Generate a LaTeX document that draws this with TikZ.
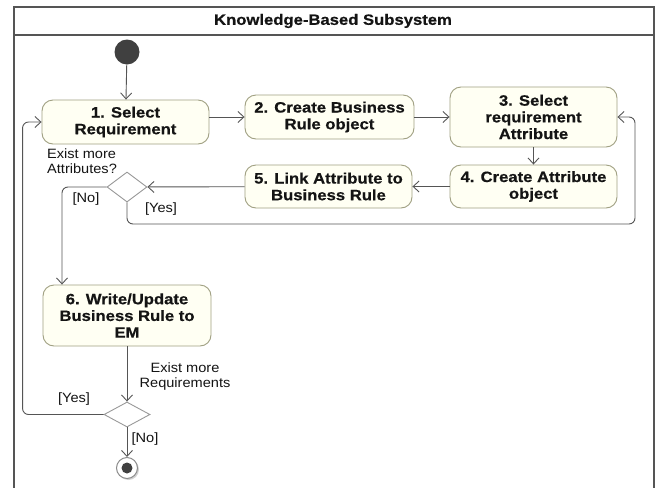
\documentclass[tikz,border=0pt]{standalone}
\usepackage{fontspec}
\setmainfont[FakeStretch=1.08,BoldFeatures={FakeStretch=1.11,FakeBold=0.6}]{Liberation Sans}
\usetikzlibrary{arrows.meta,shapes.geometric,shadows}
\definecolor{boxfill}{RGB}{255,255,243}
\definecolor{boxline}{RGB}{160,160,130}
\definecolor{flowc}{RGB}{85,85,85}
\definecolor{framec}{RGB}{85,85,85}
\definecolor{txt}{RGB}{20,20,20}
\begin{document}
\begin{tikzpicture}[x=1pt,y=-1pt,
  act/.style={draw=boxline, fill=boxfill, rounded corners=11pt, line width=0.9pt, align=center,
    font=\fontsize{15}{16.7}\selectfont\bfseries, inner sep=0pt, text=txt},
  flow/.style={draw=flowc, line width=0.9pt, -{Straight Barb[length=6pt,width=11pt]}},
  dec/.style={diamond, draw=gray!80, fill=white, line width=0.9pt, inner sep=0pt},
  lbl/.style={font=\fontsize{13.5}{15}\selectfont, text=txt, inner sep=0pt, align=center},
  title/.style={font=\fontsize{15}{17}\selectfont\bfseries, text=txt, inner sep=0pt}]
\useasboundingbox (0,0) rectangle (657,488);
\fill[white] (0,0) rectangle (657,488);
% frame
\draw[framec, line width=2.4pt] (14,490) -- (14,7) -- (654,7) -- (654,490);
\draw[framec, line width=2pt] (14,35) -- (654,35);
\node[title] (ttl) at (333,21) {Knowledge-Based Subsystem};
% nodes
\node[circle, fill=black!75, minimum size=25pt, inner sep=0pt] (init) at (127,52) {};
\node[act, minimum width=167pt, minimum height=44pt] (b1) at (125.5,122) {1. Select\\Requirement};
\node[act, minimum width=169pt, minimum height=44pt] (b2) at (329.5,117) {2. Create Business\\Rule object};
\node[act, minimum width=167pt, minimum height=60pt] (b3) at (533.5,117) {3. Select\\requirement\\Attribute};
\node[act, minimum width=167pt, minimum height=43pt] (b4) at (533.5,186.5) {4. Create Attribute\\object};
\node[act, minimum width=167pt, minimum height=43pt] (b5) at (328.5,186.5) {5. Link Attribute to\\Business Rule};
\node[dec, minimum width=40pt, minimum height=30pt] (d1) at (127,187) {};
\node[act, minimum width=168pt, minimum height=61pt] (b6) at (127,315.5) {6. Write/Update\\Business Rule to\\EM};
\node[dec, minimum width=46pt, minimum height=25pt] (d2) at (127,414.5) {};
\node[circle, draw=gray!90, fill=white, minimum size=21pt, inner sep=0pt, line width=1pt,
  drop shadow={shadow xshift=1.5pt, shadow yshift=-1.5pt, opacity=0.35}] (fin) at (127,468) {};
\node[circle, fill=black!75, minimum size=11pt, inner sep=0pt] (finin) at (fin) {};
\coordinate (c1) at (635,224);
% connectors
\draw[flow] (init) -- (b1);
\draw[flow] (b1.east |- b2.west) -- (b2.west);
\draw[flow] (b2) -- (b3);
\draw[flow] (b3) -- (b4);
\draw[flow] (b4) -- (b5);
\draw[flow] (b5) -- (d1);
\draw[flow, rounded corners=6pt] (d1.south) |- (c1) |- (b3.east);
\draw[flow, rounded corners=6pt] (d1.west) -| ([xshift=-65pt]b6.north);
\draw[flow] (b6) -- (d2);
\draw[flow, rounded corners=6pt] (d2.west) -| ([xshift=-19pt]b1.west) -- (b1.west);
\draw[flow] (d2) -- (fin);
% labels
\node[lbl, align=left, anchor=north west] (q1) at (47,149) {Exist more\\Attributes?};
\node[lbl] (no1) at (86,199) {[No]};
\node[lbl] (yes1) at (161,209) {[Yes]};
\node[lbl] (q2) at (185,376.5) {Exist more\\Requirements};
\node[lbl] (yes2) at (74,399) {[Yes]};
\node[lbl] (no2) at (145,439) {[No]};
\end{tikzpicture}
\end{document}
